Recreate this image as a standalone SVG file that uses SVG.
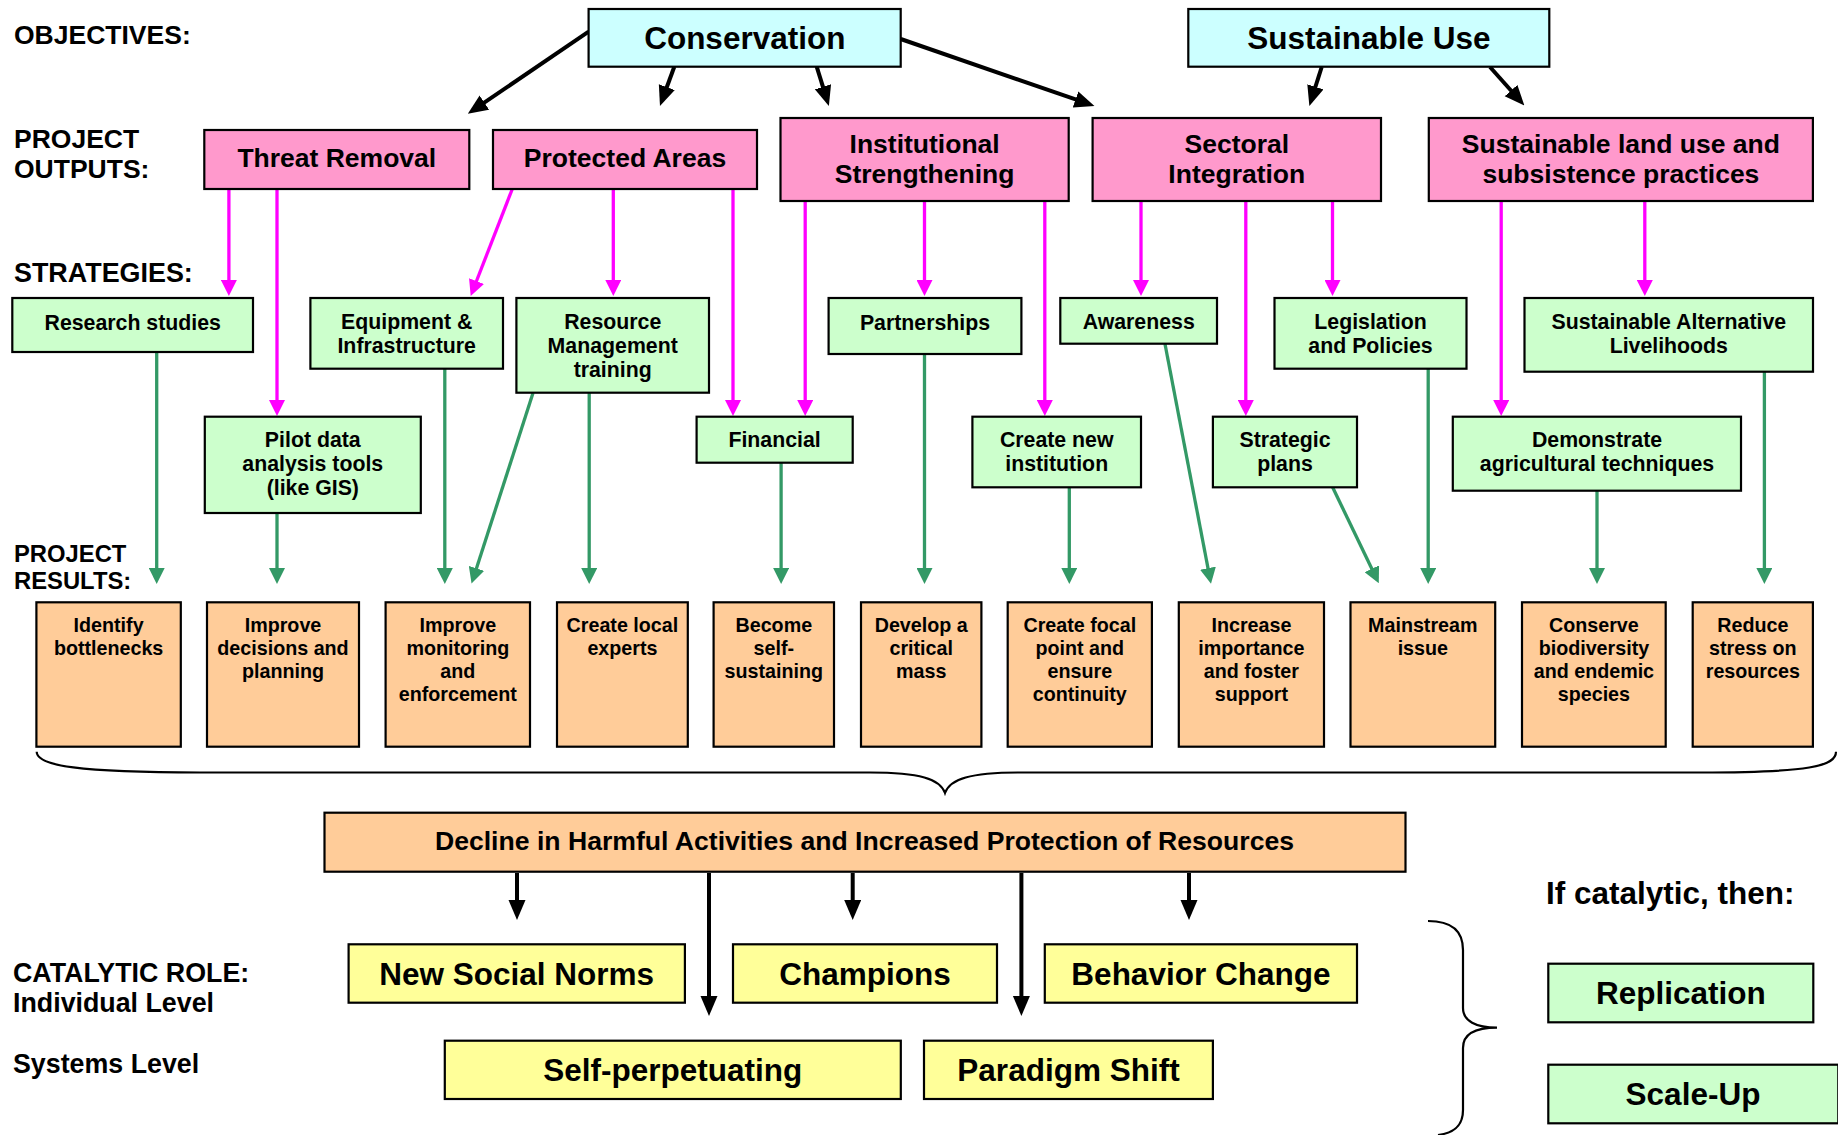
<svg xmlns="http://www.w3.org/2000/svg" width="1838" height="1135" viewBox="0 0 1838 1135">
  <defs>
    <style>
      text { font-family: "Liberation Sans", Arial, Helvetica, sans-serif; font-weight: bold; fill: #000; }
      .c { text-anchor: middle; }
      .box { stroke: #000; stroke-width: 2.2; }
      .obj { fill: #CCFFFF; }
      .out { fill: #FF99CC; }
      .str { fill: #CCFFCC; }
      .res { fill: #FFCC99; }
      .cat { fill: #FFFF99; }
      .f-obj { font-size: 31.5px; }
      .f-out { font-size: 26.5px; }
      .f-str { font-size: 21.3px; }
      .f-res { font-size: 19.7px; }
      .f-lab { font-size: 26.5px; }
      .f-lab-res { font-size: 23.8px; }
      .f-lab2 { font-size: 26.8px; }
      .f-dec { font-size: 26.6px; }
      .f-cat { font-size: 31.5px; }
      .blk { stroke: #000; stroke-width: 4; fill: none; marker-end: url(#ahBlack); }
      .pnk { stroke: #FF00FF; stroke-width: 3.3; fill: none; marker-end: url(#ahPink); }
      .grn { stroke: #339966; stroke-width: 3.3; fill: none; marker-end: url(#ahGreen); }
      .brace { stroke: #000; stroke-width: 2.2; fill: none; }
    </style>
    <marker id="ahBlack" markerUnits="userSpaceOnUse" markerWidth="20" markerHeight="18" refX="10" refY="8.5" orient="auto">
      <path d="M0,0 L20,8.5 L0,17 z" fill="#000"/>
    </marker>
    <marker id="ahPink" markerUnits="userSpaceOnUse" markerWidth="16" markerHeight="16" refX="8" refY="8" orient="auto">
      <path d="M0,0 L16,8 L0,16 z" fill="#FF00FF"/>
    </marker>
    <marker id="ahGreen" markerUnits="userSpaceOnUse" markerWidth="16" markerHeight="16" refX="8" refY="8" orient="auto">
      <path d="M0,0 L16,8 L0,16 z" fill="#339966"/>
    </marker>
  </defs>

  <rect width="1838" height="1135" fill="#FFFFFF"/>

  <!-- Row labels -->
  <g id="row-labels">
    <text class="f-lab" x="14" y="43.7">OBJECTIVES:</text>
    <text class="f-lab" x="14" y="148.3">PROJECT</text>
    <text class="f-lab" x="14" y="178.3">OUTPUTS:</text>
    <text class="f-lab" x="14" y="281.7" style="font-size:26.9px">STRATEGIES:</text>
    <text class="f-lab-res" x="14" y="561.7">PROJECT</text>
    <text class="f-lab-res" x="14" y="589.3">RESULTS:</text>
    <text class="f-lab2" x="13" y="981.7">CATALYTIC ROLE:</text>
    <text class="f-lab2" x="13" y="1011.7">Individual Level</text>
    <text class="f-lab2" x="13" y="1073.3">Systems Level</text>
    <text class="f-cat" x="1546" y="904">If catalytic, then:</text>
  </g>

  <!-- Connectors -->
  <g id="connectors">
    <!-- objectives to outputs -->
    <line class="blk" x1="588.6" y1="31.7" x2="476.1" y2="108.2"/>
    <line class="blk" x1="674.3" y1="66.7" x2="663.4" y2="96.5"/>
    <line class="blk" x1="816.7" y1="66.7" x2="825.9" y2="96.4"/>
    <line class="blk" x1="900.7" y1="39" x2="1085" y2="102.7"/>
    <line class="blk" x1="1321.7" y1="67" x2="1312.4" y2="96.4"/>
    <line class="blk" x1="1490" y1="67" x2="1517.7" y2="98"/>

    <!-- outputs to strategies -->
    <line class="pnk" x1="228.9" y1="189" x2="228.9" y2="288"/>
    <line class="pnk" x1="277" y1="189" x2="277" y2="408"/>
    <line class="pnk" x1="512.3" y1="189" x2="473.6" y2="288.5"/>
    <line class="pnk" x1="613.3" y1="189" x2="613.3" y2="288"/>
    <line class="pnk" x1="733" y1="189" x2="733" y2="408"/>
    <line class="pnk" x1="805.2" y1="201" x2="805.2" y2="408"/>
    <line class="pnk" x1="924.5" y1="201" x2="924.5" y2="288"/>
    <line class="pnk" x1="1044.8" y1="201" x2="1044.8" y2="408"/>
    <line class="pnk" x1="1141" y1="201" x2="1141" y2="288"/>
    <line class="pnk" x1="1245.8" y1="201" x2="1245.8" y2="408"/>
    <line class="pnk" x1="1332.5" y1="201" x2="1332.5" y2="288"/>
    <line class="pnk" x1="1501.2" y1="201" x2="1501.2" y2="408"/>
    <line class="pnk" x1="1644.8" y1="201" x2="1644.8" y2="288"/>

    <!-- strategies to results -->
    <line class="grn" x1="156.7" y1="352" x2="156.7" y2="576"/>
    <line class="grn" x1="277" y1="513" x2="277" y2="576"/>
    <line class="grn" x1="444.8" y1="369" x2="444.8" y2="576"/>
    <line class="grn" x1="533" y1="393" x2="474" y2="576"/>
    <line class="grn" x1="589.2" y1="393" x2="589.2" y2="576"/>
    <line class="grn" x1="781.1" y1="463" x2="781.1" y2="576"/>
    <line class="grn" x1="924.5" y1="354" x2="924.5" y2="576"/>
    <line class="grn" x1="1069.3" y1="487" x2="1069.3" y2="576"/>
    <line class="grn" x1="1165" y1="344" x2="1209.5" y2="576"/>
    <line class="grn" x1="1332.5" y1="487" x2="1375.3" y2="576"/>
    <line class="grn" x1="1428.2" y1="369" x2="1428.2" y2="576"/>
    <line class="grn" x1="1597" y1="491" x2="1597" y2="576"/>
    <line class="grn" x1="1764.4" y1="372" x2="1764.4" y2="576"/>

    <!-- decline box to catalytic roles -->
    <line class="blk" x1="517" y1="873" x2="517" y2="910"/>
    <line class="blk" x1="709" y1="873" x2="709" y2="1006"/>
    <line class="blk" x1="852.7" y1="873" x2="852.7" y2="910"/>
    <line class="blk" x1="1021.4" y1="873" x2="1021.4" y2="1006"/>
    <line class="blk" x1="1189" y1="873" x2="1189" y2="910"/>

    <!-- braces -->
    <path class="brace" d="M36.7,751.7 C36.7,766 80,772.5 200,772.5 L870,772.5 C920,772.5 940,779 945,793 C950,779 970,772.5 1020,772.5 L1700,772.5 C1810,772.5 1836,766 1836,751.7"/>
    <path class="brace" d="M1428,921 C1452,921 1463,931 1463,950 L1463,1008 C1463,1021 1476,1027.7 1497,1027.7 C1476,1027.7 1463,1034 1463,1048 L1463,1110 C1463,1126 1454,1133 1438,1135"/>
  </g>

  <!-- Objectives -->
  <g id="obj-conservation">
    <rect class="box obj" x="588.6" y="9" width="312.1" height="57.7"/>
    <text class="c f-obj" x="744.8" y="49.3">Conservation</text>
  </g>
  <g id="obj-sustainable-use">
    <rect class="box obj" x="1188.3" y="9" width="361" height="57.7"/>
    <text class="c f-obj" x="1368.8" y="49.3">Sustainable Use</text>
  </g>

  <!-- Project outputs -->
  <g id="out-threat-removal">
    <rect class="box out" x="204.3" y="130" width="265" height="59"/>
    <text class="c f-out" x="336.8" y="167">Threat Removal</text>
  </g>
  <g id="out-protected-areas">
    <rect class="box out" x="493" y="130" width="264" height="59"/>
    <text class="c f-out" x="625" y="167">Protected Areas</text>
  </g>
  <g id="out-institutional">
    <rect class="box out" x="780.5" y="118" width="288.2" height="83"/>
    <text class="c f-out" x="924.6" y="152.5">Institutional</text>
    <text class="c f-out" x="924.6" y="183">Strengthening</text>
  </g>
  <g id="out-sectoral">
    <rect class="box out" x="1092.6" y="118" width="288.4" height="83"/>
    <text class="c f-out" x="1236.8" y="152.5">Sectoral</text>
    <text class="c f-out" x="1236.8" y="183">Integration</text>
  </g>
  <g id="out-land-use">
    <rect class="box out" x="1428.8" y="118" width="384.1" height="83"/>
    <text class="c f-out" x="1620.9" y="152.5">Sustainable land use and</text>
    <text class="c f-out" x="1620.9" y="183">subsistence practices</text>
  </g>

  <!-- Strategies -->
  <g id="str-research">
    <rect class="box str" x="12.3" y="298" width="240.7" height="54"/>
    <text class="c f-str" x="132.7" y="330">Research studies</text>
  </g>
  <g id="str-equipment">
    <rect class="box str" x="310.4" y="298" width="192.6" height="70.7"/>
    <text class="c f-str" x="406.7" y="329">Equipment &amp;</text>
    <text class="c f-str" x="406.7" y="353">Infrastructure</text>
  </g>
  <g id="str-resource">
    <rect class="box str" x="516.4" y="298" width="192.6" height="94.7"/>
    <text class="c f-str" x="612.7" y="329">Resource</text>
    <text class="c f-str" x="612.7" y="353">Management</text>
    <text class="c f-str" x="612.7" y="377">training</text>
  </g>
  <g id="str-partnerships">
    <rect class="box str" x="828.6" y="298" width="192.8" height="56"/>
    <text class="c f-str" x="925" y="330">Partnerships</text>
  </g>
  <g id="str-awareness">
    <rect class="box str" x="1060.3" y="298" width="156.7" height="45.7"/>
    <text class="c f-str" x="1138.7" y="328.5">Awareness</text>
  </g>
  <g id="str-legislation">
    <rect class="box str" x="1274.5" y="298" width="192" height="70.7"/>
    <text class="c f-str" x="1370.5" y="329">Legislation</text>
    <text class="c f-str" x="1370.5" y="353">and Policies</text>
  </g>
  <g id="str-livelihoods">
    <rect class="box str" x="1524.5" y="298" width="288.5" height="73.7"/>
    <text class="c f-str" x="1668.8" y="329">Sustainable Alternative</text>
    <text class="c f-str" x="1668.8" y="353">Livelihoods</text>
  </g>
  <g id="str-pilot">
    <rect class="box str" x="204.8" y="416.7" width="216" height="96.3"/>
    <text class="c f-str" x="312.8" y="447">Pilot data</text>
    <text class="c f-str" x="312.8" y="471">analysis tools</text>
    <text class="c f-str" x="312.8" y="495">(like GIS)</text>
  </g>
  <g id="str-financial">
    <rect class="box str" x="696.6" y="416.7" width="156.1" height="46"/>
    <text class="c f-str" x="774.6" y="447">Financial</text>
  </g>
  <g id="str-new-institution">
    <rect class="box str" x="972.4" y="416.7" width="168.6" height="70.6"/>
    <text class="c f-str" x="1056.7" y="447">Create new</text>
    <text class="c f-str" x="1056.7" y="471">institution</text>
  </g>
  <g id="str-strategic-plans">
    <rect class="box str" x="1212.9" y="416.7" width="144.1" height="70.6"/>
    <text class="c f-str" x="1285" y="447">Strategic</text>
    <text class="c f-str" x="1285" y="471">plans</text>
  </g>
  <g id="str-agriculture">
    <rect class="box str" x="1452.8" y="416.7" width="288.2" height="74"/>
    <text class="c f-str" x="1597" y="447">Demonstrate</text>
    <text class="c f-str" x="1597" y="471">agricultural techniques</text>
  </g>

  <!-- Project results -->
  <g id="res-bottlenecks">
    <rect class="box res" x="36.4" y="602.3" width="144.4" height="144.4"/>
    <text class="c f-res" x="108.6" y="631.7">Identify</text>
    <text class="c f-res" x="108.6" y="654.7">bottlenecks</text>
  </g>
  <g id="res-decisions">
    <rect class="box res" x="207" y="602.3" width="152" height="144.4"/>
    <text class="c f-res" x="283" y="631.7">Improve</text>
    <text class="c f-res" x="283" y="654.7">decisions and</text>
    <text class="c f-res" x="283" y="677.7">planning</text>
  </g>
  <g id="res-monitoring">
    <rect class="box res" x="385.6" y="602.3" width="144.4" height="144.4"/>
    <text class="c f-res" x="457.8" y="631.7">Improve</text>
    <text class="c f-res" x="457.8" y="654.7">monitoring</text>
    <text class="c f-res" x="457.8" y="677.7">and</text>
    <text class="c f-res" x="457.8" y="700.7">enforcement</text>
  </g>
  <g id="res-local-experts">
    <rect class="box res" x="557" y="602.3" width="130.8" height="144.4"/>
    <text class="c f-res" x="622.4" y="631.7">Create local</text>
    <text class="c f-res" x="622.4" y="654.7">experts</text>
  </g>
  <g id="res-self-sustaining">
    <rect class="box res" x="713.6" y="602.3" width="120.4" height="144.4"/>
    <text class="c f-res" x="773.8" y="631.7">Become</text>
    <text class="c f-res" x="773.8" y="654.7">self-</text>
    <text class="c f-res" x="773.8" y="677.7">sustaining</text>
  </g>
  <g id="res-critical-mass">
    <rect class="box res" x="861" y="602.3" width="120.4" height="144.4"/>
    <text class="c f-res" x="921.2" y="631.7">Develop a</text>
    <text class="c f-res" x="921.2" y="654.7">critical</text>
    <text class="c f-res" x="921.2" y="677.7">mass</text>
  </g>
  <g id="res-focal-point">
    <rect class="box res" x="1007.7" y="602.3" width="144.2" height="144.4"/>
    <text class="c f-res" x="1079.8" y="631.7">Create focal</text>
    <text class="c f-res" x="1079.8" y="654.7">point and</text>
    <text class="c f-res" x="1079.8" y="677.7">ensure</text>
    <text class="c f-res" x="1079.8" y="700.7">continuity</text>
  </g>
  <g id="res-importance">
    <rect class="box res" x="1178.8" y="602.3" width="145.2" height="144.4"/>
    <text class="c f-res" x="1251.4" y="631.7">Increase</text>
    <text class="c f-res" x="1251.4" y="654.7">importance</text>
    <text class="c f-res" x="1251.4" y="677.7">and foster</text>
    <text class="c f-res" x="1251.4" y="700.7">support</text>
  </g>
  <g id="res-mainstream">
    <rect class="box res" x="1350.5" y="602.3" width="144.7" height="144.4"/>
    <text class="c f-res" x="1422.8" y="631.7">Mainstream</text>
    <text class="c f-res" x="1422.8" y="654.7">issue</text>
  </g>
  <g id="res-biodiversity">
    <rect class="box res" x="1522" y="602.3" width="143.7" height="144.4"/>
    <text class="c f-res" x="1593.9" y="631.7">Conserve</text>
    <text class="c f-res" x="1593.9" y="654.7">biodiversity</text>
    <text class="c f-res" x="1593.9" y="677.7">and endemic</text>
    <text class="c f-res" x="1593.9" y="700.7">species</text>
  </g>
  <g id="res-stress">
    <rect class="box res" x="1692.7" y="602.3" width="120.2" height="144.4"/>
    <text class="c f-res" x="1752.8" y="631.7">Reduce</text>
    <text class="c f-res" x="1752.8" y="654.7">stress on</text>
    <text class="c f-res" x="1752.8" y="677.7">resources</text>
  </g>

  <!-- Overall outcome -->
  <g id="outcome-decline">
    <rect class="box res" x="324.5" y="812.7" width="1081" height="59"/>
    <text class="c f-dec" x="864.5" y="850">Decline in Harmful Activities and Increased Protection of Resources</text>
  </g>

  <!-- Catalytic roles -->
  <g id="cat-social-norms">
    <rect class="box cat" x="348.6" y="944.3" width="336.3" height="58.4"/>
    <text class="c f-cat" x="516.7" y="984.8">New Social Norms</text>
  </g>
  <g id="cat-champions">
    <rect class="box cat" x="733" y="944.3" width="264" height="58.4"/>
    <text class="c f-cat" x="865" y="984.8">Champions</text>
  </g>
  <g id="cat-behavior">
    <rect class="box cat" x="1044.8" y="944.3" width="312.2" height="58.4"/>
    <text class="c f-cat" x="1200.9" y="984.8">Behavior Change</text>
  </g>
  <g id="cat-self-perpetuating">
    <rect class="box cat" x="444.8" y="1040.7" width="456" height="58.3"/>
    <text class="c f-cat" x="672.8" y="1081">Self-perpetuating</text>
  </g>
  <g id="cat-paradigm">
    <rect class="box cat" x="924" y="1040.7" width="288.9" height="58.3"/>
    <text class="c f-cat" x="1068.5" y="1081">Paradigm Shift</text>
  </g>

  <!-- Consequences -->
  <g id="then-replication">
    <rect class="box str" x="1548.3" y="963.7" width="265" height="58.6"/>
    <text class="c f-cat" x="1680.8" y="1004.3">Replication</text>
  </g>
  <g id="then-scale-up">
    <rect class="box str" x="1548.3" y="1064.7" width="290" height="58.6"/>
    <text class="c f-cat" x="1693" y="1105.3">Scale-Up</text>
  </g>
</svg>
